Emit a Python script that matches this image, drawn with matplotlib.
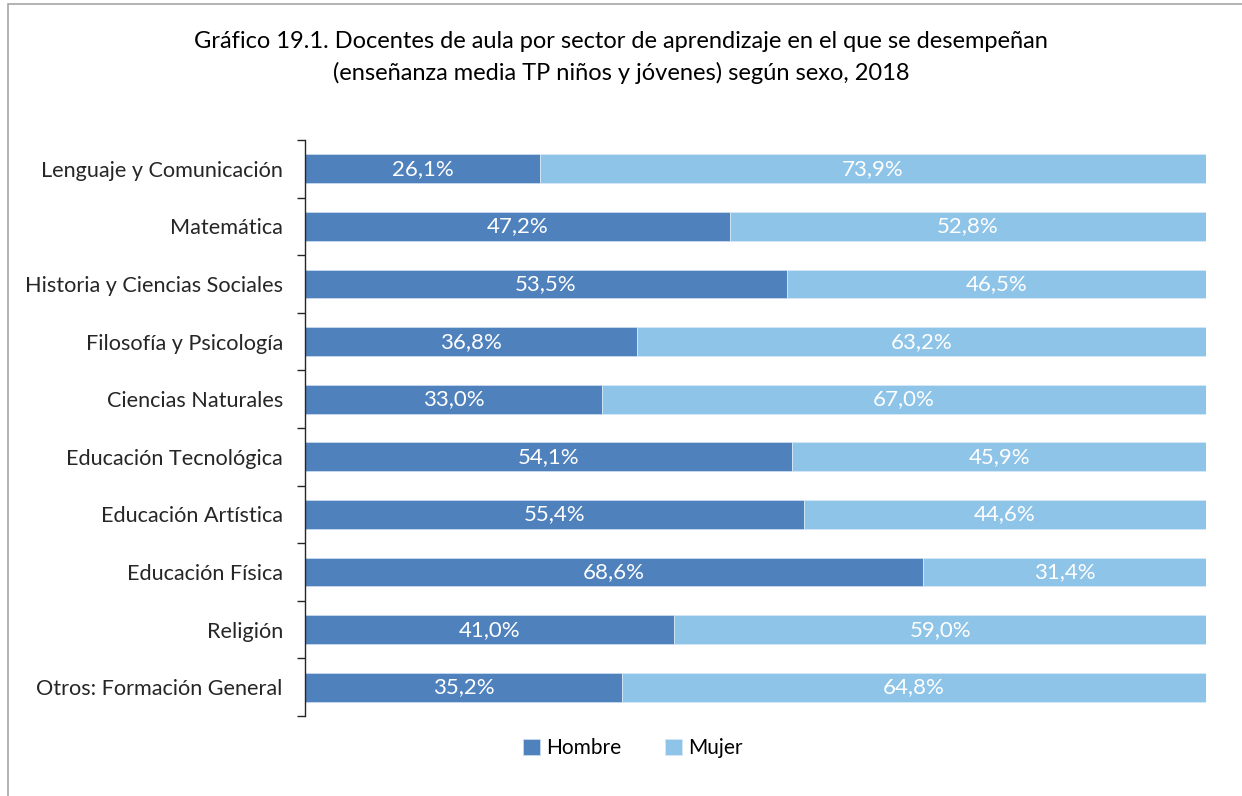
import numpy as np
import matplotlib
matplotlib.use("Agg")
import matplotlib.pyplot as plt
from matplotlib.patches import Rectangle

plt.rcParams['font.family'] = ['Lato', 'DejaVu Sans']

sectores = ["Lenguaje y Comunicación", "Matemática", "Historia y Ciencias Sociales",
            "Filosofía y Psicología", "Ciencias Naturales", "Educación Tecnológica",
            "Educación Artística", "Educación Física", "Religión", "Otros: Formación General"]
hombre = [26.1, 47.2, 53.5, 36.8, 33.0, 54.1, 55.4, 68.6, 41.0, 35.2]
mujer = [73.9, 52.8, 46.5, 63.2, 67.0, 45.9, 44.6, 31.4, 59.0, 64.8]

c_h = '#4F81BD'
c_m = '#8EC4E8'

fig = plt.figure(figsize=(12.42, 7.96), dpi=100)
fig.patches.append(Rectangle((8/1242, -0.01), 1.5, 1 - 4/796 + 0.01, transform=fig.transFigure,
                             fill=False, edgecolor='#a6a6a6', linewidth=1.2))

ax = fig.add_axes([305/1242, 1 - 716/796, (1206 - 305)/1242, (716 - 140)/796])
y = np.arange(len(sectores))
ax.barh(y, hombre, height=0.5, color=c_h, edgecolor='#c9daf0', linewidth=0.6, label='Hombre')
ax.barh(y, mujer, left=hombre, height=0.5, color=c_m, edgecolor='#d6e8f7', linewidth=0.6, label='Mujer')

for i in range(len(sectores)):
    ax.text(hombre[i] / 2, y[i], f"{hombre[i]:.1f}%".replace('.', ','), ha='center', va='center',
            color='white', fontsize=16)
    ax.text(hombre[i] + mujer[i] / 2, y[i], f"{mujer[i]:.1f}%".replace('.', ','), ha='center', va='center',
            color='white', fontsize=16)

ax.set_xlim(0, 100)
ax.set_ylim(len(sectores) - 0.5, -0.5)
ax.set_yticks(y)
ax.set_yticklabels(sectores, fontsize=15.6, color='#262626')
ax.set_yticks(np.arange(len(sectores) + 1) - 0.5, minor=True)
ax.tick_params(axis='y', which='major', length=0, pad=16)
ax.tick_params(axis='y', which='minor', length=6, width=1, color='#262626')
ax.set_xticks([])
for s in ['top', 'right', 'bottom']:
    ax.spines[s].set_visible(False)
ax.spines['left'].set_color('#262626')
ax.spines['left'].set_linewidth(1)

fig.text(0.5, 1 - 42/796, "Gráfico 19.1. Docentes de aula por sector de aprendizaje en el que se desempeñan",
         ha='center', va='center', fontsize=17, color='black')
fig.text(0.5, 1 - 73/796, "(enseñanza media TP niños y jóvenes) según sexo, 2018",
         ha='center', va='center', fontsize=17, color='black')

fig.legend(loc='center', bbox_to_anchor=(633/1242, 1 - 748/796), ncol=2, frameon=False,
           fontsize=15, handlelength=0.8, handleheight=0.8, columnspacing=2.1, handletextpad=0.3)

fig.savefig('out.png', dpi=100)
